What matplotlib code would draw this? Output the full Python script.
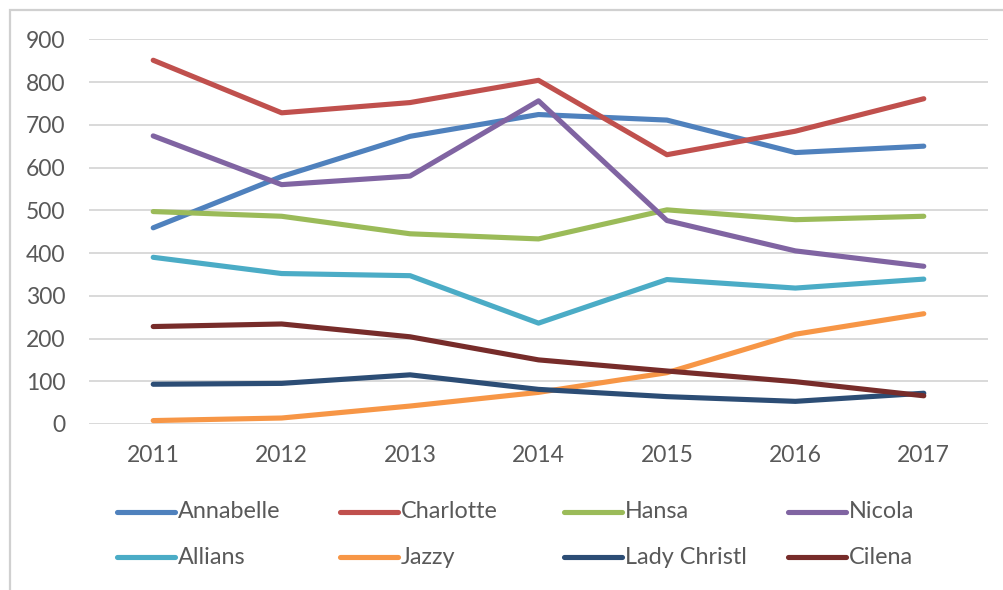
import matplotlib
matplotlib.use("Agg")
import matplotlib.pyplot as plt
from matplotlib.lines import Line2D
from matplotlib.patches import Rectangle

years = [2011, 2012, 2013, 2014, 2015, 2016, 2017]

names = ["Annabelle", "Charlotte", "Hansa", "Nicola",
         "Allians", "Jazzy", "Lady Christl", "Cilena"]

annabelle = [459, 579, 673, 724, 711, 635, 650]
charlotte = [851, 728, 752, 804, 630, 685, 761]
hansa = [497, 486, 445, 433, 501, 478, 486]
nicola = [674, 560, 580, 756, 476, 405, 369]
allians = [390, 352, 347, 236, 338, 318, 339]
jazzy = [8, 14, 42, 74, 120, 210, 258]
lady_christl = [93, 95, 115, 81, 64, 53, 72]
cilena = [228, 234, 204, 150, 124, 99, 66]

series = [annabelle, charlotte, hansa, nicola,
          allians, jazzy, lady_christl, cilena]

colors = ["#4F81BD", "#C0504D", "#9BBB59", "#8064A2",
          "#4BACC6", "#F79646", "#2C4D75", "#772C2A"]

plt.rcParams["font.family"] = ["Lato", "DejaVu Sans"]
text_color = "#595959"
grid_color = "#D9D9D9"

W, H = 1004, 590
fig = plt.figure(figsize=(W / 100, H / 100), dpi=100)

# chart-area border (only left/top visible in the crop)
fig.add_artist(Rectangle((10 / W, -0.05), 1.2, 1 - 10 / H + 0.05,
                         transform=fig.transFigure, fill=False,
                         edgecolor="#D0D0D0", linewidth=1.6))

ax = fig.add_axes([89 / W, 1 - 424 / H, 899 / W, (424 - 39.3) / H])

for vals, col in zip(series, colors):
    ax.plot(years, vals, color=col, linewidth=3.7,
            solid_capstyle="round", solid_joinstyle="round", zorder=3)

ax.set_xlim(2010.5, 2017.5)
ax.set_ylim(0, 900)
ax.set_yticks(range(0, 901, 100))
ax.set_xticks(years)
ax.grid(axis="y", color=grid_color, linewidth=1.4)
ax.set_axisbelow(True)
for s in ax.spines.values():
    s.set_visible(False)
ax.tick_params(length=0, labelsize=16.5, colors=text_color)
ax.tick_params(axis="y", pad=17)
ax.tick_params(axis="x", pad=15)

# legend: 4 columns x 2 rows, even spacing
col_x = [117, 340, 564, 788]
row_y = [512, 557]
for i, (name, col) in enumerate(zip(names, colors)):
    x0 = col_x[i % 4]
    y0 = row_y[i // 4]
    fig.add_artist(Line2D([x0 / W, (x0 + 58) / W], [1 - y0 / H, 1 - y0 / H],
                          transform=fig.transFigure, color=col,
                          linewidth=3.7, solid_capstyle="round"))
    fig.text((x0 + 61) / W, 1 - y0 / H, name, fontsize=16.8,
             color=text_color, va="center", ha="left")

fig.savefig("out.png", dpi=100)
